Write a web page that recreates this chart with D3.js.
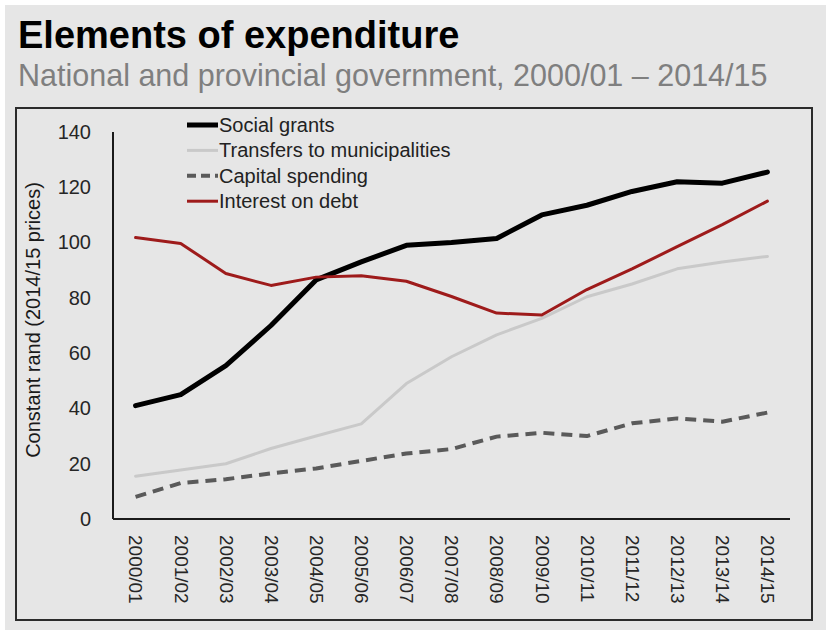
<!DOCTYPE html>
<html>
<head>
<meta charset="utf-8">
<script src="https://cdn.jsdelivr.net/npm/d3@7/dist/d3.min.js"></script>
<style>
  html, body { margin: 0; padding: 0; background: #ffffff; }
  svg { display: block; font-family: "Liberation Sans", Arial, sans-serif; }
</style>
</head>
<body>
<svg id="chart" width="826" height="630"></svg>
<script>
// Fiscal years on the horizontal axis
const years = ["2000/01","2001/02","2002/03","2003/04","2004/05","2005/06","2006/07",
               "2007/08","2008/09","2009/10","2010/11","2011/12","2012/13","2013/14","2014/15"];

// Spending by element, constant rand (2014/15 prices), billions
const socialGrants   = [41, 45, 55.5, 70, 86.5, 93, 99, 100, 101.5, 110, 113.5, 118.5, 122, 121.5, 125.5];
const transfersMunic = [15.5, 17.7, 20, 25.5, 30, 34.4, 49, 58.7, 66.6, 72.6, 80.4, 85, 90.5, 93, 95];
const capitalSpend   = [8, 13, 14.4, 16.5, 18.3, 21, 23.7, 25.3, 29.8, 31.2, 30, 34.6, 36.4, 35.2, 38.5];
const interestDebt   = [101.8, 99.7, 88.8, 84.5, 87.5, 88, 86, 80.5, 74.5, 73.8, 83, 90.5, 98.5, 106.5, 115];

const yTicks = [0, 20, 40, 60, 80, 100, 120, 140];

const seriesNames = ["Social grants", "Transfers to municipalities", "Capital spending", "Interest on debt"];
const seriesValues = [socialGrants, transfersMunic, capitalSpend, interestDebt];
const seriesStyle = [
  { stroke: "#000000", width: 5,   dash: null },
  { stroke: "#c9c9c9", width: 3,   dash: null },
  { stroke: "#5a5a5a", width: 4,   dash: "11,7" },
  { stroke: "#9e1b1b", width: 3,   dash: null }
];

const svg = d3.select("#chart");

// panel background and frame
svg.append("rect").attr("x", 5).attr("y", 5).attr("width", 821).attr("height", 625)
   .attr("fill", "#e6e6e6");

svg.append("text").attr("x", 18).attr("y", 48)
   .attr("font-size", 38).attr("font-weight", "bold").attr("fill", "#000")
   .text("Elements of expenditure");

svg.append("text").attr("x", 18).attr("y", 86)
   .attr("font-size", 30.5).attr("fill", "#7f7f7f")
   .text("National and provincial government, 2000/01 \u2013 2014/15");

svg.append("rect").attr("x", 16).attr("y", 108).attr("width", 796).attr("height", 512)
   .attr("fill", "none").attr("stroke", "#2b2b2b").attr("stroke-width", 2);

// plot area
const x0 = 113, x1 = 790, yTop = 132, yBottom = 519;

const x = d3.scalePoint().domain(years).range([x0, x1]).padding(0.5);
const y = d3.scaleLinear().domain([0, 140]).range([yBottom, yTop]);

// y axis: line and labels, no tick marks
const yAxis = d3.axisLeft(y).tickValues(yTicks).tickSize(0).tickPadding(22);
const gy = svg.append("g").attr("transform", `translate(${x0},0)`).call(yAxis);
gy.select(".domain").attr("stroke", "#1a1a1a").attr("stroke-width", 2)
  .attr("d", `M0,${yTop}V${yBottom}`);
gy.selectAll("text").attr("font-size", 20).attr("fill", "#262626")
  .attr("font-family", "Liberation Sans, Arial, sans-serif");

// x axis with rotated year labels
const xAxis = d3.axisBottom(x).tickSize(0);
const gx = svg.append("g").attr("transform", `translate(0,${yBottom})`).call(xAxis);
gx.select(".domain").attr("stroke", "#1a1a1a").attr("stroke-width", 2)
  .attr("d", `M${x0},0H${x1}`);
gx.selectAll("text")
  .attr("font-size", 19).attr("fill", "#262626")
  .attr("font-family", "Liberation Sans, Arial, sans-serif")
  .attr("text-anchor", "start")
  .attr("transform", "rotate(90)")
  .attr("x", 16).attr("y", 0).attr("dy", "0.35em");

// y axis title
svg.append("text")
   .attr("transform", `translate(40,${(178 + 462) / 2}) rotate(-90)`)
   .attr("text-anchor", "middle").attr("font-size", 20).attr("fill", "#1a1a1a")
   .text("Constant rand (2014/15 prices)");

// series lines
const line = d3.line().x((d, i) => x(years[i])).y(d => y(d));
seriesValues.forEach((vals, k) => {
  const st = seriesStyle[k];
  svg.append("path").datum(vals)
     .attr("d", line)
     .attr("fill", "none")
     .attr("stroke", st.stroke)
     .attr("stroke-width", st.width)
     .attr("stroke-linejoin", "round")
     .attr("stroke-linecap", st.dash ? "butt" : "round")
     .attr("stroke-dasharray", st.dash);
});

// legend
const legend = svg.append("g").attr("transform", "translate(187,125)");
seriesNames.forEach((name, k) => {
  const st = seriesStyle[k];
  const g = legend.append("g").attr("transform", `translate(0,${k * 25.4})`);
  g.append("line").attr("x1", 0).attr("x2", 31).attr("y1", 0).attr("y2", 0)
   .attr("stroke", st.stroke).attr("stroke-width", st.width)
   .attr("stroke-dasharray", st.dash ? "9,5" : null);
  g.append("text").attr("x", 32).attr("y", 0).attr("dy", "0.35em")
   .attr("font-size", 20).attr("fill", "#222")
   .text(name);
});
</script>
</body>
</html>
